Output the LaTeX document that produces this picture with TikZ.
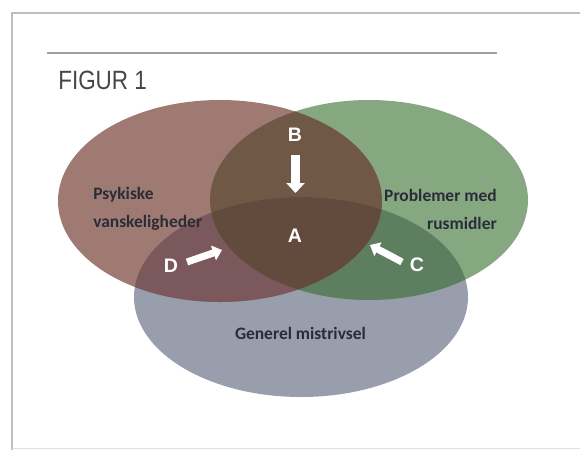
\documentclass[tikz,border=0pt]{standalone}
\usepackage{fontspec}
\setmainfont{Carlito}
\newfontfamily\arialfont{Liberation Sans}
\usetikzlibrary{arrows.meta}
\definecolor{psyred}{RGB}{158,122,115}
\definecolor{rusgreen}{RGB}{134,168,128}
\definecolor{genblue}{RGB}{152,158,172}
\definecolor{psyrus}{RGB}{112,88,70}
\definecolor{psygen}{RGB}{122,88,92}
\definecolor{rusgen}{RGB}{94,126,96}
\definecolor{allthree}{RGB}{98,74,60}
\definecolor{labeltext}{RGB}{42,44,58}
\definecolor{titlegray}{RGB}{70,70,70}
\definecolor{framegray}{RGB}{190,190,190}
\definecolor{rulegray}{RGB}{160,160,160}
\tikzset{
  circlabel/.style={font=\fontsize{12.4}{19.9}\selectfont\bfseries,
    text=labeltext, inner sep=0pt},
  letter/.style={font=\arialfont\fontsize{13.9}{14}\selectfont\bfseries,
    text=white, inner sep=0pt},
  bigarrow/.style={white, line width=6.4pt, -{Triangle[width=12.8pt,length=7.1pt]}},
  smallarrow/.style={white, line width=5pt, -{Triangle[width=10.7pt,length=6.4pt]}}
}
\def\psyell{(220,201) ellipse [x radius=162, y radius=101]}
\def\rusell{(369,200) ellipse [x radius=159, y radius=100]}
\def\genell{(301,297) ellipse [x radius=167, y radius=100]}

\begin{document}
\begin{tikzpicture}[x=0.025cm, y=-0.025cm]
    \useasboundingbox (0,0) rectangle (580,450);

    % Frame and heading
    \draw[framegray, line width=1.2pt] (12,450) -- (12,13) -- (580,13);
    \draw[framegray!50, line width=0.6pt] (12,448) -- (580,448);
    \draw[rulegray, line width=0.8pt] (47,53) -- (497,53);
    \node[anchor=base west, inner sep=0pt, text=titlegray,
      font=\arialfont\fontsize{18.8}{20}\selectfont] (title) at (58,89)
      {\scalebox{0.85}[1]{FIGUR 1}};

    % Circles
    \fill[genblue] \genell;
    \fill[rusgreen] \rusell;
    \fill[psyred] \psyell;

    % Overlaps
    \begin{scope}
      \clip \psyell;
      \fill[psyrus] \rusell;
      \fill[psygen] \genell;
    \end{scope}
    \begin{scope}
      \clip \rusell;
      \fill[rusgen] \genell;
    \end{scope}
    \begin{scope}
      \clip \psyell;
      \clip \rusell;
      \fill[allthree] \genell;
    \end{scope}

    % Circle labels
    \node[circlabel, anchor=west, align=left] (psy) at (93,209) {Psykiske\\vanskeligheder};
    \node[circlabel, anchor=east, align=right] (rus) at (497,209) {Problemer med\\rusmidler};
    \node[circlabel, anchor=base] (gen) at (300.5,339) {Generel mistrivsel};

    % Letters
    \node[letter] (B) at (295,135) {B};
    \node[letter] (A) at (295,236) {A};
    \node[letter] (D) at (171,266) {D};
    \node[letter] (C) at (417,265) {C};

    % Arrows
    \coordinate (Btail) at (295.5,155);
    \coordinate (Btip) at (295.5,193);
    \coordinate (Dtail) at (187,262);
    \coordinate (Dtip) at (222,250);
    \coordinate (Ctail) at (402,262);
    \coordinate (Ctip) at (370,245);
    \draw[bigarrow] (Btail) -- (Btip);
    \draw[smallarrow] (Dtail) -- (Dtip);
    \draw[smallarrow] (Ctail) -- (Ctip);
\end{tikzpicture}
\end{document}
